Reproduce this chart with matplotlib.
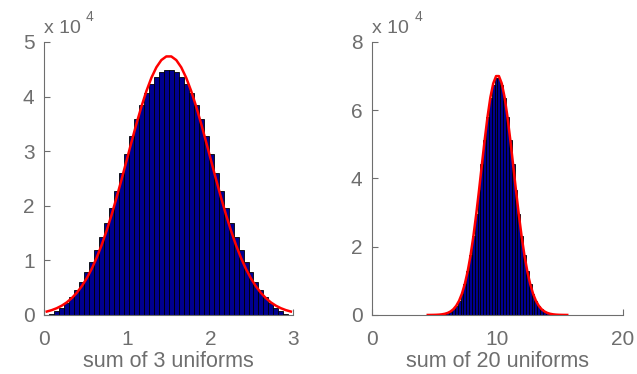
import numpy as np
import matplotlib.pyplot as plt

plt.rcParams['font.family'] = ['Liberation Sans', 'DejaVu Sans']

# left panel: sum of 3 uniforms, 50 bins between 0 and 3
l_range = (0.0, 3.0)
l_counts = [27, 243, 675, 1323, 2187, 3267, 4563, 6075, 7803, 9747,
            11907, 14283, 16875, 19683, 22707, 25947, 29403, 32850, 35874, 38466,
            40626, 42354, 43650, 44514, 44946, 44946, 44514, 43650, 42354, 40626,
            38466, 35874, 32850, 29403, 25947, 22707, 19683, 16875, 14283, 11907,
            9747, 7803, 6075, 4563, 3267, 2187, 1323, 675, 243, 27]
l_fit = [630, 890, 1240, 1700, 2300, 3070, 4040, 5230, 6680, 8410,
         10440, 12770, 15400, 18300, 21450, 24770, 28200, 31640, 35000, 38150,
         41000, 43430, 45350, 46680, 47350, 47350, 46680, 45350, 43430, 41000,
         38150, 35000, 31640, 28200, 24770, 21450, 18300, 15400, 12770, 10440,
         8410, 6680, 5230, 4040, 3070, 2300, 1700, 1240, 890, 630]

# right panel: sum of 20 uniforms, 50 bins between ~4.32 and ~15.68
r_range = (4.316, 15.684)
r_counts = [3, 7, 16, 37, 79, 158, 303, 553, 969, 1634,
            2652, 4148, 6270, 9143, 12882, 17569, 23215, 29679, 36753, 44136,
            51353, 57951, 63470, 67409, 69470, 69470, 67409, 63470, 57951, 51353,
            44136, 36753, 29679, 23215, 17569, 12882, 9143, 6270, 4148, 2652,
            1634, 969, 553, 303, 158, 79, 37, 16, 7, 3]
r_fit = [6, 13, 27, 54, 104, 193, 348, 608, 1030, 1693,
         2695, 4159, 6230, 9035, 12697, 17311, 22904, 29353, 36465, 43943,
         51304, 58076, 63768, 67847, 69998, 69998, 67847, 63768, 58076, 51304,
         43943, 36465, 29353, 22904, 17311, 12697, 9035, 6230, 4159, 2695,
         1693, 1030, 608, 348, 193, 104, 54, 27, 13, 6]

l_xticks = [0, 1, 2, 3]
l_yticks = [0, 1, 2, 3, 4, 5]
r_xticks = [0, 10, 20]
r_yticks = [0, 2, 4, 6, 8]

gray = '#6e6e6e'
barcol = '#000090'

fig = plt.figure(figsize=(6.37, 3.74), dpi=100)
ax1 = fig.add_axes([0.0695, 0.1578, 0.391, 0.73])
ax2 = fig.add_axes([0.5845, 0.1578, 0.393, 0.73])


def draw(ax, rng, counts, fit, xticks, yticks, xlab):
    edges = np.linspace(rng[0], rng[1], len(counts) + 1)
    centers = (edges[:-1] + edges[1:]) / 2
    ax.bar(centers, counts, width=edges[1] - edges[0], color=barcol,
           edgecolor='black', linewidth=0.6, zorder=2)
    ax.plot(centers, fit, color='red', linewidth=1.8, zorder=3)
    ax.set_xlim(xticks[0], xticks[-1])
    ax.set_ylim(0, yticks[-1] * 1e4)
    ax.set_xticks(xticks)
    ax.set_yticks([v * 1e4 for v in yticks])
    ax.set_yticklabels([str(v) for v in yticks])
    for s in ['top', 'right']:
        ax.spines[s].set_visible(False)
    for s in ['left', 'bottom']:
        ax.spines[s].set_color(gray)
        ax.spines[s].set_linewidth(0.8)
    ax.tick_params(direction='in', colors=gray, labelsize=15, length=4)
    ax.tick_params(axis='x', pad=11)
    ax.tick_params(axis='y', pad=7)
    ax.set_xlabel(xlab, fontsize=15.5, color=gray, labelpad=1)
    ax.text(0.0, 1.034, 'x 10', transform=ax.transAxes, fontsize=14,
            color=gray, ha='left', va='baseline')
    ax.text(0.168, 1.076, '4', transform=ax.transAxes,
            fontsize=10, color=gray, ha='left', va='baseline')


draw(ax1, l_range, l_counts, l_fit, l_xticks, l_yticks, 'sum of 3 uniforms')
draw(ax2, r_range, r_counts, r_fit, r_xticks, r_yticks, 'sum of 20 uniforms')

fig.savefig('out.png', dpi=100)
